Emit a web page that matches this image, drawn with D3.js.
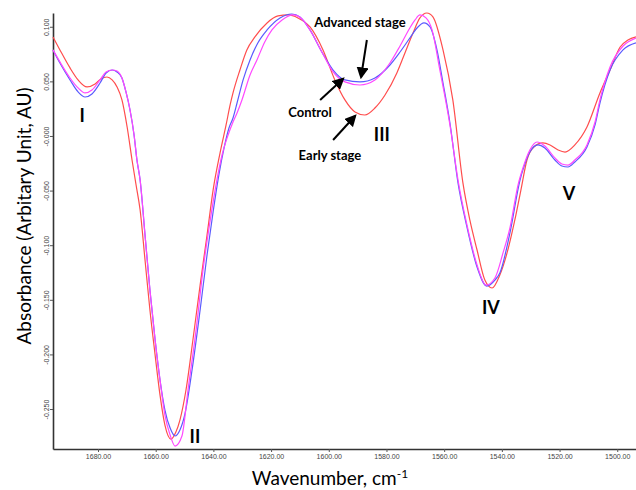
<!DOCTYPE html>
<html>
<head>
<meta charset="utf-8">
<script src="https://cdn.jsdelivr.net/npm/d3@7"></script>
<style>
  html, body { margin: 0; padding: 0; background: #fff; }
  svg { display: block; }
  .tick text { font-family: 'Liberation Sans', Arial, sans-serif; fill: #444; }
</style>
</head>
<body>
<div id="chart"></div>
<script>
// Control (blue) - wavenumber / absorbance
const controlWn = [1695.6, 1693.2, 1689.7, 1686.9, 1684.5, 1682.1, 1679.3, 1677.2, 1675.1, 1673.4, 1671.7, 1670.3, 1668.9, 1667.5, 1666.5, 1665.4, 1663.7, 1662.0, 1660.2, 1658.5, 1656.8, 1655.0, 1653.3, 1651.6, 1649.8, 1647.4, 1644.6, 1642.2, 1640.1, 1638.1, 1636.3, 1634.6, 1633.2, 1631.8, 1629.7, 1627.3, 1624.6, 1621.4, 1616.9, 1612.8, 1610.0, 1606.5, 1602.4, 1598.5, 1594.4, 1589.2, 1584.0, 1578.8, 1575.3, 1571.9, 1569.4, 1567.0, 1564.9, 1562.5, 1560.4, 1558.0, 1555.2, 1552.1, 1548.6, 1545.2, 1542.4, 1540.7, 1537.2, 1533.7, 1532.7, 1530.3, 1527.5, 1525.1, 1521.6, 1519.2, 1517.1, 1514.7, 1510.5, 1507.7, 1506.0, 1502.5, 1498.0, 1493.5]
const controlAbs = [0.0788, 0.0668, 0.0513, 0.0403, 0.0357, 0.0385, 0.0485, 0.0577, 0.0604, 0.0586, 0.0531, 0.0403, 0.0238, 0.0009, -0.0220, -0.0403, -0.0907, -0.1410, -0.1868, -0.2234, -0.2509, -0.2674, -0.2747, -0.2692, -0.2537, -0.2143, -0.1593, -0.1090, -0.0696, -0.0357, -0.0110, 0.0073, 0.0165, 0.0302, 0.0513, 0.0696, 0.0852, 0.0971, 0.1081, 0.1117, 0.1090, 0.0971, 0.0769, 0.0604, 0.0513, 0.0495, 0.0531, 0.0650, 0.0769, 0.0897, 0.0989, 0.1035, 0.0998, 0.0788, 0.0485, 0.0119, -0.0430, -0.0833, -0.1200, -0.1374, -0.1319, -0.1255, -0.0888, -0.0403, -0.0311, -0.0147, -0.0082, -0.0110, -0.0220, -0.0275, -0.0284, -0.0238, -0.0101, 0.0101, 0.0302, 0.0604, 0.0788, 0.0852]

// Early stage (red)
const earlyWn = [1695.6, 1693.2, 1689.7, 1686.9, 1683.8, 1681.0, 1679.0, 1676.9, 1675.1, 1673.4, 1671.7, 1669.9, 1668.2, 1666.8, 1665.4, 1663.7, 1662.0, 1660.2, 1658.5, 1656.8, 1654.7, 1653.0, 1651.6, 1649.5, 1647.1, 1644.6, 1642.2, 1640.1, 1637.7, 1635.6, 1634.2, 1633.2, 1630.8, 1628.4, 1625.6, 1621.4, 1617.6, 1614.1, 1610.7, 1606.5, 1602.0, 1597.9, 1594.4, 1590.9, 1587.5, 1584.0, 1580.5, 1576.4, 1573.6, 1570.8, 1568.4, 1566.0, 1563.9, 1560.4, 1557.0, 1553.5, 1551.1, 1548.6, 1545.9, 1543.4, 1540.7, 1538.2, 1535.5, 1533.4, 1531.3, 1528.9, 1525.8, 1523.3, 1520.5, 1518.1, 1514.7, 1510.5, 1506.0, 1502.5, 1499.0, 1496.3, 1493.5]
const earlyAbs = [0.0907, 0.0788, 0.0623, 0.0513, 0.0449, 0.0476, 0.0522, 0.0540, 0.0513, 0.0449, 0.0330, 0.0082, -0.0220, -0.0449, -0.0678, -0.1136, -0.1593, -0.2006, -0.2372, -0.2647, -0.2775, -0.2711, -0.2601, -0.2326, -0.1868, -0.1365, -0.0907, -0.0495, -0.0156, 0.0101, 0.0284, 0.0394, 0.0604, 0.0788, 0.0907, 0.1035, 0.1099, 0.1108, 0.1081, 0.0998, 0.0788, 0.0513, 0.0330, 0.0220, 0.0192, 0.0256, 0.0375, 0.0577, 0.0760, 0.0943, 0.1081, 0.1126, 0.1090, 0.0788, 0.0330, -0.0430, -0.0769, -0.1044, -0.1319, -0.1392, -0.1273, -0.1071, -0.0769, -0.0495, -0.0220, -0.0101, -0.0064, -0.0082, -0.0128, -0.0147, -0.0082, 0.0082, 0.0394, 0.0604, 0.0815, 0.0879, 0.0907]

// Advanced stage (magenta)
const advancedWn = [1695.6, 1693.2, 1689.7, 1686.9, 1684.5, 1682.1, 1679.3, 1677.2, 1675.1, 1673.4, 1671.7, 1670.3, 1668.9, 1667.5, 1666.5, 1665.4, 1663.7, 1662.0, 1660.2, 1658.5, 1656.8, 1655.0, 1653.3, 1650.9, 1648.8, 1646.0, 1643.6, 1641.2, 1639.1, 1637.0, 1634.9, 1633.2, 1631.8, 1630.1, 1627.3, 1624.9, 1622.2, 1619.7, 1616.2, 1612.4, 1609.3, 1605.5, 1602.4, 1598.5, 1594.4, 1589.2, 1584.0, 1578.8, 1575.3, 1571.9, 1570.1, 1568.4, 1566.3, 1564.2, 1561.5, 1558.0, 1555.2, 1552.1, 1548.6, 1545.5, 1542.4, 1539.6, 1537.2, 1534.4, 1532.7, 1530.3, 1527.8, 1525.1, 1521.6, 1519.2, 1517.1, 1514.7, 1510.5, 1507.7, 1506.0, 1502.5, 1498.0, 1493.5]
const advancedAbs = [0.0788, 0.0678, 0.0531, 0.0440, 0.0394, 0.0421, 0.0513, 0.0586, 0.0604, 0.0595, 0.0531, 0.0403, 0.0238, 0.0009, -0.0220, -0.0403, -0.0907, -0.1410, -0.1868, -0.2234, -0.2555, -0.2738, -0.2839, -0.2747, -0.2326, -0.1777, -0.1227, -0.0788, -0.0449, -0.0174, 0.0009, 0.0128, 0.0211, 0.0330, 0.0559, 0.0696, 0.0861, 0.0971, 0.1062, 0.1108, 0.1071, 0.0925, 0.0769, 0.0586, 0.0495, 0.0467, 0.0513, 0.0668, 0.0824, 0.0989, 0.1062, 0.1108, 0.1081, 0.0971, 0.0604, 0.0101, -0.0403, -0.0815, -0.1181, -0.1365, -0.1300, -0.1071, -0.0842, -0.0449, -0.0293, -0.0128, -0.0055, -0.0092, -0.0201, -0.0256, -0.0266, -0.0220, -0.0082, 0.0128, 0.0330, 0.0632, 0.0824, 0.0897]

const xTicks = [1680, 1660, 1640, 1620, 1600, 1580, 1560, 1540, 1520, 1500]
const yTicks = [0.1, 0.05, 0, -0.05, -0.1, -0.15, -0.2, -0.25]
const yTickLabels = ['0.100', '0.050', '-0.000', '-0.050', '-0.100', '-0.150', '-0.200', '-0.250']

// peak labels: [text, wavenumber, absorbance]
const peakLabels = [
  ['I', 1685.5, 0.0183],
  ['II', 1646.4, -0.2756],
  ['III', 1581.6, 0.0009],
  ['IV', 1543.8, -0.1575],
  ['V', 1516.7, -0.0531]
]
// series callouts: [text, label wn, label abs, arrow from wn, abs, arrow to wn, abs]
const callouts = [
  ['Advanced stage', 1589.2, 0.1035, 1586.8, 0.0879, 1588.8, 0.0540],
  ['Control', 1606.5, 0.0211, 1603.0, 0.0330, 1595.1, 0.0522],
  ['Early stage', 1599.6, -0.0174, 1598.5, -0.0037, 1590.9, 0.0183]
]

const width = 636, height = 490
const margin = { top: 13, right: 0, bottom: 41, left: 53 }

const svg = d3.select('#chart').append('svg')
  .attr('width', width)
  .attr('height', height)

const x = d3.scaleLinear()
  .domain([1695.6, 1493.5])
  .range([margin.left, width - margin.right])

const y = d3.scaleLinear()
  .domain([-0.2866, 0.1126])
  .range([height - margin.bottom, margin.top])

// Axes
const xAxis = svg.append('g')
  .attr('transform', `translate(0,${height - margin.bottom})`)
  .call(d3.axisBottom(x).tickValues(xTicks).tickFormat(d3.format('.2f')).tickSize(3).tickSizeOuter(0).tickPadding(2))
xAxis.selectAll('text').attr('font-size', 7)

const yAxis = svg.append('g')
  .attr('transform', `translate(${margin.left},0)`)
  .call(d3.axisLeft(y).tickValues(yTicks).tickFormat((d, i) => yTickLabels[i]).tickSize(3).tickSizeOuter(0))
yAxis.selectAll('text')
  .attr('font-size', 7)
  .attr('transform', 'rotate(-90)')
  .attr('x', 0)
  .attr('y', -4)
  .attr('dy', 0)
  .attr('text-anchor', 'middle')

svg.selectAll('.domain').attr('stroke', '#333').attr('stroke-width', 1.6)
svg.selectAll('.tick line').attr('stroke', '#555')

// Axis titles
svg.append('text')
  .attr('transform', 'translate(31,216) rotate(-90)')
  .attr('text-anchor', 'middle')
  .attr('font-family', 'Lato, "Open Sans", sans-serif')
  .attr('font-size', 19)
  .attr('fill', '#000')
  .text('Absorbance (Arbitary Unit, AU)')

const xt = svg.append('text')
  .attr('x', 330)
  .attr('y', 485)
  .attr('text-anchor', 'middle')
  .attr('font-family', 'Lato, "Open Sans", sans-serif')
  .attr('font-size', 19)
  .attr('fill', '#000')
xt.append('tspan').text('Wavenumber, cm')
xt.append('tspan').attr('font-size', 12).attr('dy', -7).text('-1')

// Curves
const series = [
  { name: 'Early stage', wn: earlyWn, abs: earlyAbs, color: '#ff4d4d' },
  { name: 'Control', wn: controlWn, abs: controlAbs, color: '#5a5aff' },
  { name: 'Advanced stage', wn: advancedWn, abs: advancedAbs, color: '#ff48ff' }
]

const line = d3.line()
  .x(d => x(d[0]))
  .y(d => y(d[1]))
  .curve(d3.curveMonotoneX)

series.forEach(s => {
  svg.append('path')
    .datum(s.wn.map((w, i) => [w, s.abs[i]]))
    .attr('fill', 'none')
    .attr('stroke', s.color)
    .attr('stroke-width', 1.2)
    .attr('d', line)
})

// Peak labels
peakLabels.forEach(([t, w, a]) => {
  svg.append('text')
    .attr('x', x(w))
    .attr('y', y(a))
    .attr('dy', '0.35em')
    .attr('text-anchor', 'middle')
    .attr('font-family', 'Lato, "Open Sans", sans-serif')
    .attr('font-weight', 'bold')
    .attr('font-size', 18)
    .attr('fill', '#000')
    .text(t)
})

// Arrow head
svg.append('defs').append('marker')
  .attr('id', 'arrow')
  .attr('viewBox', '0 0 10 10')
  .attr('refX', 8).attr('refY', 5)
  .attr('markerWidth', 6).attr('markerHeight', 6)
  .attr('orient', 'auto')
  .append('path')
  .attr('d', 'M0,0 L10,5 L0,10 Z')
  .attr('fill', '#000')

callouts.forEach(([t, lw, la, fw, fa, tw, ta]) => {
  svg.append('line')
    .attr('x1', x(fw)).attr('y1', y(fa))
    .attr('x2', x(tw)).attr('y2', y(ta))
    .attr('stroke', '#000')
    .attr('stroke-width', 2)
    .attr('marker-end', 'url(#arrow)')
  svg.append('text')
    .attr('x', x(lw))
    .attr('y', y(la))
    .attr('dy', '0.35em')
    .attr('text-anchor', 'middle')
    .attr('font-family', 'Lato, "Open Sans", sans-serif')
    .attr('font-weight', 'bold')
    .attr('font-size', 13)
    .attr('fill', '#000')
    .text(t)
})
</script>
</body>
</html>
